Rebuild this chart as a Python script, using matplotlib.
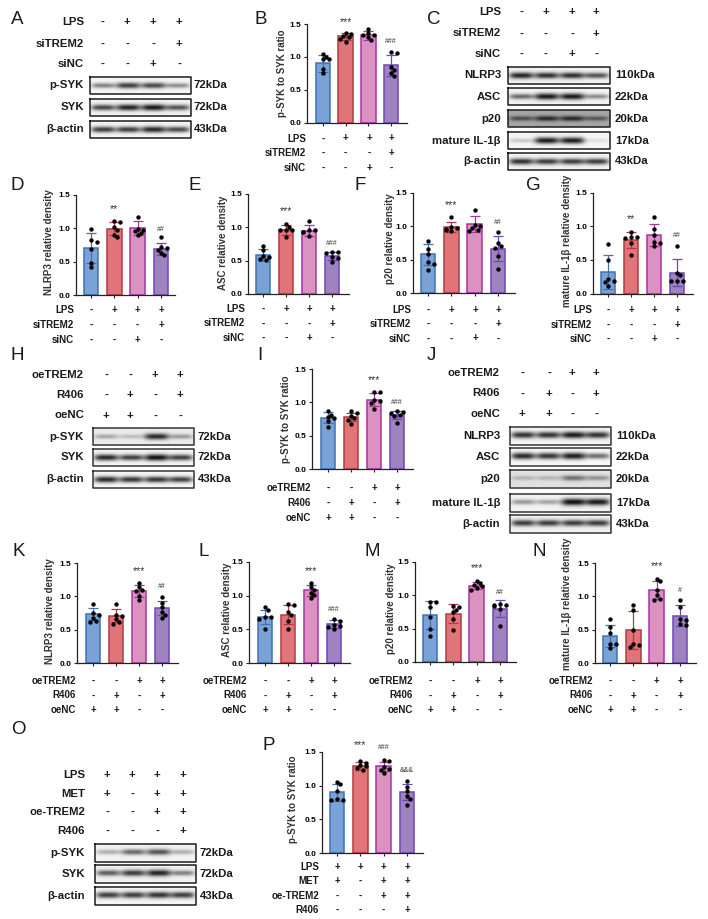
import numpy as np
import matplotlib
matplotlib.use("Agg")
import matplotlib.pyplot as plt

plt.rcParams["font.family"] = ["Liberation Sans", "DejaVu Sans"]

W, H = 708, 919

# group fills and edges
fills = ["#7BA2D6", "#E07479", "#DB92C1", "#9F82C0"]
edges = ["#3E73B2", "#B23A44", "#A834A4", "#6E48B8"]

# treatment rows
si_rows = ["LPS", "siTREM2", "siNC"]
si_signs = ["-+++", "---+", "--+-"]
oe_rows = ["oeTREM2", "R406", "oeNC"]
oe_signs = ["--++", "-+-+", "++--"]
met_rows = ["LPS", "MET", "oe-TREM2", "R406"]
met_signs = ["++++", "+-++", "--++", "---+"]

# bar heights, sd and single samples
b_bars = [0.90, 1.31, 1.33, 0.87]
b_sd = [0.13, 0.06, 0.07, 0.16]
b_pts = [[1.05, 1.00, 0.96, 0.96, 0.81, 0.75], [1.36, 1.35, 1.32, 1.30, 1.27, 1.23],
         [1.42, 1.36, 1.34, 1.33, 1.30, 1.26], [1.08, 1.06, 0.85, 0.80, 0.76, 0.71]]
d_bars = [0.70, 0.99, 1.00, 0.69]
d_sd = [0.22, 0.10, 0.10, 0.095]
d_pts = [[0.985, 0.825, 0.80, 0.685, 0.485, 0.415], [1.11, 1.085, 1.02, 0.975, 0.90, 0.865],
         [1.165, 0.985, 0.975, 0.95, 0.925, 0.89], [0.865, 0.725, 0.70, 0.675, 0.635, 0.60]]
e_bars = [0.59, 0.96, 0.95, 0.57]
e_sd = [0.09, 0.075, 0.08, 0.06]
e_pts = [[0.72, 0.66, 0.57, 0.55, 0.52, 0.51], [1.05, 1.00, 0.96, 0.96, 0.96, 0.85],
         [1.09, 0.96, 0.96, 0.935, 0.935, 0.875], [0.635, 0.635, 0.62, 0.55, 0.535, 0.485]]
f_bars = [0.58, 0.99, 1.03, 0.665]
f_sd = [0.155, 0.075, 0.12, 0.19]
f_pts = [[0.775, 0.66, 0.59, 0.46, 0.44, 0.35], [1.135, 0.99, 0.975, 0.96, 0.95, 0.925],
         [1.24, 1.025, 1.00, 0.975, 0.95, 0.925], [0.91, 0.75, 0.70, 0.675, 0.56, 0.36]]
g_bars = [0.32, 0.80, 0.875, 0.31]
g_sd = [0.25, 0.115, 0.16, 0.205]
g_pts = [[0.74, 0.50, 0.21, 0.19, 0.175, 0.11], [0.92, 0.85, 0.84, 0.825, 0.76, 0.575],
         [1.135, 0.96, 0.875, 0.775, 0.75, 0.71], [0.71, 0.31, 0.275, 0.185, 0.185, 0.185]]
i_bars = [0.77, 0.78, 1.04, 0.81]
i_sd = [0.08, 0.06, 0.10, 0.06]
i_pts = [[0.865, 0.815, 0.78, 0.765, 0.725, 0.625], [0.87, 0.84, 0.80, 0.76, 0.73, 0.68],
         [1.155, 1.155, 1.04, 1.015, 0.99, 0.90], [0.865, 0.85, 0.84, 0.815, 0.79, 0.69]]
k_bars = [0.735, 0.71, 1.075, 0.82]
k_sd = [0.09, 0.10, 0.09, 0.105]
k_pts = [[0.89, 0.745, 0.72, 0.67, 0.635, 0.61], [0.885, 0.725, 0.70, 0.66, 0.62, 0.59],
         [1.205, 1.145, 1.095, 1.08, 1.00, 0.945], [0.985, 0.90, 0.84, 0.77, 0.725, 0.675]]
l_bars = [0.68, 0.72, 1.08, 0.575]
l_sd = [0.105, 0.14, 0.085, 0.06]
l_pts = [[0.825, 0.785, 0.685, 0.685, 0.66, 0.50], [0.875, 0.86, 0.76, 0.71, 0.63, 0.51],
         [1.19, 1.135, 1.085, 1.045, 1.01, 0.96], [0.66, 0.63, 0.56, 0.55, 0.53, 0.505]]
m_bars = [0.70, 0.725, 1.145, 0.80]
m_sd = [0.21, 0.145, 0.055, 0.125]
m_pts = [[0.90, 0.90, 0.825, 0.67, 0.50, 0.385], [0.835, 0.825, 0.785, 0.75, 0.645, 0.485],
         [1.22, 1.185, 1.16, 1.135, 1.11, 1.085], [0.87, 0.86, 0.85, 0.835, 0.795, 0.545]]
n_bars = [0.405, 0.49, 1.09, 0.71]
n_sd = [0.17, 0.285, 0.135, 0.155]
n_pts = [[0.655, 0.54, 0.45, 0.29, 0.29, 0.23], [0.865, 0.80, 0.50, 0.29, 0.265, 0.24],
         [1.265, 1.23, 1.10, 1.015, 0.965, 0.94], [0.95, 0.84, 0.665, 0.64, 0.58, 0.565]]
p_bars = [0.90, 1.295, 1.285, 0.91]
p_sd = [0.13, 0.055, 0.065, 0.12]
p_pts = [[1.06, 1.02, 0.92, 0.805, 0.79, 0.78], [1.365, 1.34, 1.31, 1.285, 1.26, 1.24],
         [1.375, 1.36, 1.275, 1.25, 1.24, 1.19], [1.07, 0.98, 0.92, 0.84, 0.805, 0.72]]

# blot band strengths, one value per lane
a_blots = [("p-SYK", "72kDa", [0.5, 0.8, 0.75, 0.45], 0.04),
           ("SYK", "72kDa", [0.75, 0.9, 0.95, 0.7], 0.05),
           ("β-actin", "43kDa", [0.8, 0.8, 0.9, 0.75], 0.04)]
c_blots = [("NLRP3", "110kDa", [0.9, 0.85, 0.85, 0.7], 0.05),
           ("ASC", "22kDa", [0.6, 0.95, 0.95, 0.45], 0.05),
           ("p20", "20kDa", [0.4, 0.55, 0.55, 0.35], 0.35),
           ("mature IL-1β", "17kDa", [0.2, 0.95, 0.95, 0.1], 0.04),
           ("β-actin", "43kDa", [0.85, 0.8, 0.8, 0.8], 0.05)]
h_blots = [("p-SYK", "72kDa", [0.3, 0.2, 0.85, 0.35], 0.08),
           ("SYK", "72kDa", [0.9, 0.8, 1.0, 0.8], 0.04),
           ("β-actin", "43kDa", [0.9, 0.85, 0.85, 0.8], 0.03)]
j_blots = [("NLRP3", "110kDa", [0.85, 0.85, 0.95, 0.85], 0.04),
           ("ASC", "22kDa", [0.9, 0.85, 0.95, 0.6], 0.03),
           ("p20", "20kDa", [0.2, 0.2, 0.5, 0.35], 0.12),
           ("mature IL-1β", "17kDa", [0.4, 0.35, 1.0, 0.95], 0.05),
           ("β-actin", "43kDa", [0.8, 0.8, 0.8, 0.8], 0.05)]
o_blots = [("p-SYK", "72kDa", [0.3, 0.6, 0.7, 0.3], 0.05),
           ("SYK", "72kDa", [0.65, 0.8, 0.9, 0.5], 0.05),
           ("β-actin", "43kDa", [0.8, 0.8, 0.85, 0.8], 0.04)]

fig = plt.figure(figsize=(W / 100, H / 100), dpi=100, facecolor="white")

# overlay in pixel units for letters, rows and blots
ov = fig.add_axes([0, 0, 1, 1], zorder=5)
ov.patch.set_alpha(0)
ov.axis("off")


def swarm(vals, px_per_unit, px_per_cat):
    # spread overlapping samples sideways, like a prism scatter
    placed = []
    out = []
    for v in sorted(vals, reverse=True):
        for k in [0, 1, -1, 2, -2]:
            dx = k * 2.9
            if all(np.hypot(dx - a, (v - b) * px_per_unit) >= 3.6 for a, b in placed):
                break
        placed.append((dx, v))
        out.append((dx / px_per_cat, v))
    return out


def rows(labels, signs, xs, ys, xr, size):
    for lab, sg, y in zip(labels, signs, ys):
        ov.text(xr, y, lab, ha="right", va="center", fontsize=size, fontweight="bold", color="#1a1a1a")
        for x, s in zip(xs, sg):
            ov.text(x, y, s, ha="center", va="center", fontsize=size, fontweight="bold", color="#1a1a1a")


def bar_panel(bars, sd, pts, cx, xa, xe, y15, y0, ylab, ylab_x, ylab_y, notes, labels, signs, ys, xr):
    ax = fig.add_axes([xa / W, 1 - y0 / H, (xe - xa) / W, (y0 - y15) / H])
    step = (cx[3] - cx[0]) / 3
    ax.set_xlim((xa - cx[0]) / step, (xe - cx[0]) / step)
    ax.set_ylim(0, 1.5)
    pos = np.arange(4)
    ax.bar(pos, bars, width=14.8 / step, color=fills, edgecolor=edges, linewidth=1.1)
    for i in pos:
        ax.errorbar(i, bars[i], yerr=sd[i], color=edges[i], lw=0.9, capsize=3.6, capthick=0.9, clip_on=False)
        sw = swarm(pts[i], (y0 - y15) / 1.5, step)
        ax.scatter([i + a for a, b in sw], [b for a, b in sw], s=10, color="black", zorder=4, linewidths=0, clip_on=False)
    for i, txt, y in notes:
        size = 7.5 if "*" in txt else 5
        ax.text(i, y, txt, ha="center", va="center", fontsize=size, color="#333333", clip_on=False)
    for s in ["top", "right"]:
        ax.spines[s].set_visible(False)
    for s in ["left", "bottom"]:
        ax.spines[s].set_linewidth(0.9)
        ax.spines[s].set_color("#222222")
    ax.set_xticks(pos)
    ax.set_xticklabels([])
    ax.set_yticks([0, 0.5, 1.0, 1.5])
    ax.set_yticklabels(["0.0", "0.5", "1.0", "1.5"], fontsize=6, fontweight="bold")
    ax.tick_params(length=2.5, width=0.8, pad=1.5, color="#222222")
    ov.text(ylab_x, ylab_y, ylab, rotation=90, ha="center", va="center", fontsize=7, fontweight="bold", color="#333333")
    rows(labels, signs, cx, ys, xr, 7)


def blot_panel(blots, x0, x1, tops, h, kx, xr, edge="#1c1c1c"):
    lanes = [0.13, 0.38, 0.63, 0.87]
    for (lab, kda, bands, bg), top in zip(blots, tops):
        yy, xx = np.mgrid[0:1:40j, 0:1:160j]
        dark = np.zeros_like(xx)
        for c, s in zip(lanes, bands):
            dark += s * np.exp(-((xx - c) / 0.12) ** 4) * np.exp(-((yy - 0.5) / (0.11 + 0.09 * s)) ** 2)
        ov.imshow(1 - bg - 0.9 * dark, cmap="gray", vmin=0, vmax=1, extent=[x0, x1, top + h, top], aspect="auto", interpolation="bilinear")
        ov.plot([x0, x1, x1, x0, x0], [top, top, top + h, top + h, top], color=edge, lw=1.1)
        ov.text(xr, top + h / 2, lab, ha="right", va="center", fontsize=8.2, fontweight="bold", color="#1a1a1a")
        ov.text(kx, top + h / 2, kda, ha="left", va="center", fontsize=8.2, fontweight="bold", color="#1a1a1a")


# blots and their treatment rows
rows(si_rows, si_signs, [102, 127, 153, 179], [22, 44, 64], 84, 8.2)
blot_panel(a_blots, 90, 191, [77, 99, 121], 17, 194, 84)
rows(si_rows, si_signs, [521, 545.5, 572, 596], [12, 33.5, 54], 501, 8.2)
blot_panel(c_blots, 508, 610, [67, 88, 110, 132, 153], 17, 615, 501)
rows(oe_rows, oe_signs, [106, 130, 155, 180], [375, 395, 415.5], 84, 8.2)
blot_panel(h_blots, 93, 194, [428, 449, 471], 17, 198, 84, "#3a3230")
rows(oe_rows, oe_signs, [522, 549, 572, 596], [373, 393.5, 414], 500, 8.2)
blot_panel(j_blots, 510, 611, [427, 448, 470, 494, 515], 17.5, 616, 500, "#333333")
rows(met_rows, met_signs, [107, 132, 157, 183], [775, 794, 812, 831], 85, 8.2)
blot_panel(o_blots, 95, 196, [844, 865, 887], 17.5, 200, 85)

# bar panels
bar_panel(b_bars, b_sd, b_pts, [323, 345, 369, 391], 307, 407, 24, 122.5, "p-SYK to SYK ratio", 282, 73,
          [(1, "***", 1.53), (3, "###", 1.24)], si_rows, si_signs, [138.5, 153, 168], 306)
bar_panel(d_bars, d_sd, d_pts, [91, 114, 137, 161], 76, 175, 194.7, 295, "NLRP3 relative density", 49, 242,
          [(1, "**", 1.29), (3, "##", 0.985)], si_rows, si_signs, [310, 325, 340], 74)
bar_panel(e_bars, e_sd, e_pts, [263, 286, 309, 332], 248, 349, 194, 294, "ASC relative density", 223, 243,
          [(1, "***", 1.245), (3, "###", 0.76)], si_rows, si_signs, [309, 323.5, 338], 245)
bar_panel(f_bars, f_sd, f_pts, [428, 451, 475, 498], 413, 515, 193, 293, "p20 relative density", 390, 239,
          [(1, "***", 1.325), (3, "##", 1.06)], si_rows, si_signs, [310, 324, 338.5], 411)
bar_panel(g_bars, g_sd, g_pts, [608, 631, 654, 677], 593, 693, 193, 293.5, "mature IL-1β relative density", 567, 241,
          [(1, "**", 1.11), (3, "##", 0.86)], si_rows, si_signs, [310, 325, 339], 592)
bar_panel(i_bars, i_sd, i_pts, [328, 351, 374, 397], 312, 413, 369, 469, "p-SYK to SYK ratio", 286, 419,
          [(2, "***", 1.33), (3, "###", 0.99)], oe_rows, oe_signs, [488, 503, 518], 311)
bar_panel(k_bars, k_sd, k_pts, [93, 116, 139, 162], 77, 178, 563, 663, "NLRP3 relative density", 50, 611,
          [(2, "***", 1.38), (3, "##", 1.145)], oe_rows, oe_signs, [681, 695.5, 710], 76)
bar_panel(l_bars, l_sd, l_pts, [265, 288, 311, 334], 249, 350, 562, 663, "ASC relative density", 227, 610,
          [(2, "***", 1.37), (3, "###", 0.795)], oe_rows, oe_signs, [681, 695.5, 710], 247)
bar_panel(m_bars, m_sd, m_pts, [430, 453, 477, 500], 415, 516, 562, 662, "p20 relative density", 391, 609,
          [(2, "***", 1.41), (3, "##", 1.035)], oe_rows, oe_signs, [681, 695.5, 710], 413)
bar_panel(n_bars, n_sd, n_pts, [610, 633, 656, 680], 595, 696, 563, 663, "mature IL-1β relative density", 567, 604,
          [(2, "***", 1.455), (3, "#", 1.08)], oe_rows, oe_signs, [681, 695.5, 710], 593)
bar_panel(p_bars, p_sd, p_pts, [337, 360, 383, 407], 322, 423, 752, 853, "p-SYK to SYK ratio", 293, 799,
          [(1, "***", 1.6), (2, "###", 1.57), (3, "&&&", 1.23)], met_rows, met_signs, [867, 881, 896, 910], 319)

# panel letters
letters = {"A": (11, 20), "B": (254, 20), "C": (427, 20), "D": (11, 186), "E": (188, 186), "F": (354, 186),
           "G": (526, 186), "H": (11, 355), "I": (257, 355), "J": (427, 355), "K": (12, 552), "L": (198, 552),
           "M": (365, 552), "N": (532, 552), "O": (11, 729), "P": (263, 745)}
for k, (x, y) in letters.items():
    ov.text(x, y, k, ha="left", va="center", fontsize=13.5, color="#1a1a1a")

ov.set_xlim(0, W)
ov.set_ylim(H, 0)

fig.savefig("out.png", dpi=100)
